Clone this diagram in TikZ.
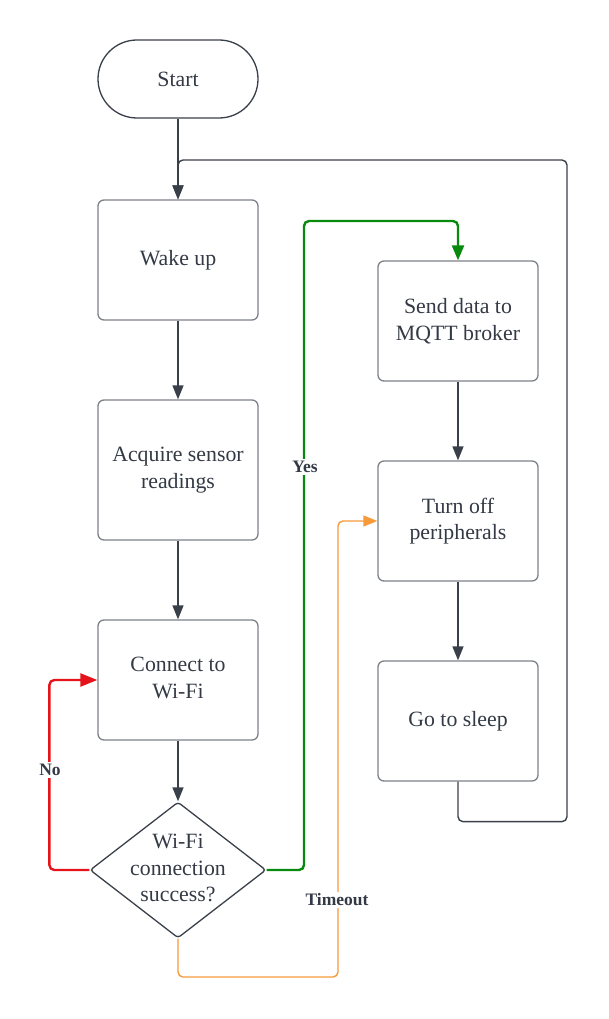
\documentclass[tikz,border=0pt]{standalone}
\usepackage{fontspec}
\setmainfont{Liberation Serif}
\usetikzlibrary{arrows.meta,shapes.geometric}
\definecolor{txt}{HTML}{333A45}
\definecolor{edge}{HTML}{3A4049}
\definecolor{bord}{HTML}{7D8188}
\definecolor{yesg}{HTML}{078A0E}
\definecolor{nored}{HTML}{E5141A}
\definecolor{tout}{HTML}{F79A3A}
\tikzset{
  stepbox/.style={draw=bord, line width=1.3pt, rounded corners=6pt, minimum width=160pt, minimum height=120pt, inner sep=0pt, align=center, text=txt, font=\fontsize{21.8pt}{26.5pt}\selectfont},
  flow/.style={draw=edge, line width=1.4pt, rounded corners=5pt, -{Triangle[width=11pt,length=14pt]}},
  lbl/.style={fill=white, text=txt, inner sep=2pt, font=\fontsize{17.5pt}{20pt}\selectfont\bfseries},
}
\begin{document}
\begin{tikzpicture}[x=1pt,y=-1pt]
\useasboundingbox (0,0) rectangle (608,1019);
\node[stepbox, draw=edge, rounded corners=39pt, minimum height=78pt] (start) at (178,79) {Start};
\node[stepbox] (wake) at (178,260) {Wake up};
\node[stepbox, minimum height=140pt] (acq) at (178,470) {Acquire sensor\\readings};
\node[stepbox] (conn) at (178,680) {};
\node[align=center, text=txt, font=\fontsize{21.8pt}{26.5pt}\selectfont] (conntxt) at (178,678) {Connect to\\Wi-Fi};
\node[diamond, draw=edge, line width=1.3pt, rounded corners=3pt, minimum width=176pt, minimum height=136pt, inner sep=0pt] (dec) at (178,870) {};
\node[align=center, text=txt, font=\fontsize{21.8pt}{26.5pt}\selectfont] (dectxt) at (178,868) {Wi-Fi\\connection\\success?};
\node[stepbox] (send) at (458,321) {Send data to\\MQTT broker};
\node[stepbox] (turn) at (458,521) {Turn off\\peripherals};
\node[stepbox] (sleep) at (458,721) {Go to sleep};

\draw[flow] (start) -- (wake);
\draw[flow] (wake) -- (acq);
\draw[flow] (acq) -- (conn);
\draw[flow] (conn) -- (dec);
\draw[flow] (send) -- (turn);
\draw[flow] (turn) -- (sleep);
\draw[flow] (sleep.south) -- ++(0,40) -| (567,160) -| (wake.north);

\draw[flow, draw=yesg, line width=2.4pt, -{Triangle[width=12pt,length=15pt,fill=yesg]}] (dec.east) -| (304,221) -| (send.north);
\node[lbl] (yes) at (305,467) {Yes};
\draw[flow, draw=nored, line width=2.4pt, -{Triangle[width=13pt,length=17pt,fill=nored]}] (dec.west) -- ++(-40,0) |- (conn.west);
\node[lbl] (no) at (50,770) {No};
\draw[flow, draw=tout, line width=1.4pt, -{Triangle[width=11pt,length=14pt,fill=tout]}] (dec.south) |- (338,977) |- (turn.west);
\node[lbl] (to) at (337,900) {Timeout};
\end{tikzpicture}
\end{document}
